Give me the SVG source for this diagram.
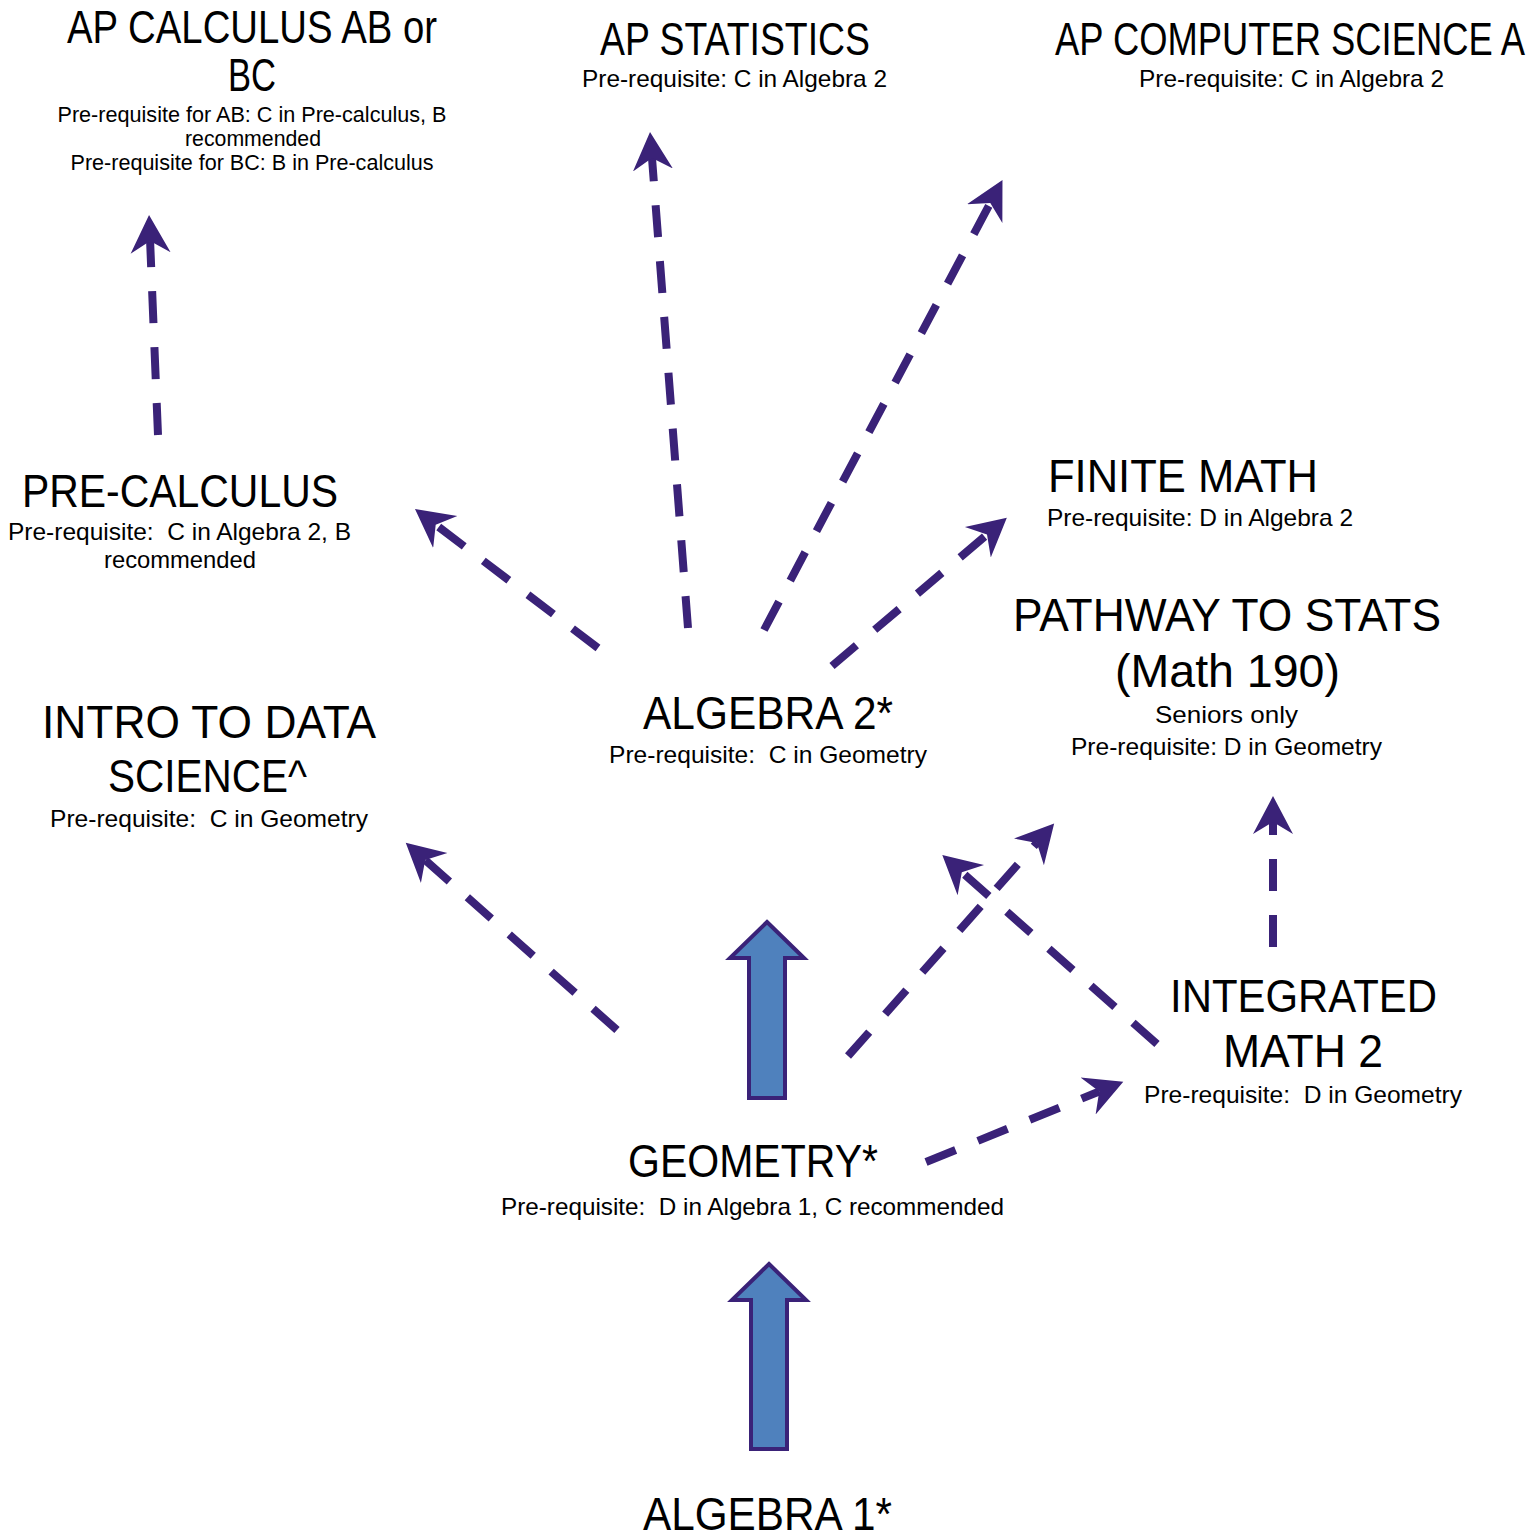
<svg xmlns="http://www.w3.org/2000/svg" width="1535" height="1539" viewBox="0 0 1535 1539">
<defs>
<style>
text{font-family:"Liberation Sans",Arial,sans-serif;fill:#000;text-anchor:middle;white-space:pre}
.t{font-size:46px}
.s{font-size:24px}
.s2{font-size:21.5px}
.d{fill:none;stroke:#3a2278;stroke-width:8;stroke-dasharray:32 24;marker-end:url(#stealth)}
.blk{fill:#4f81bd;stroke:#3a2278;stroke-width:4;stroke-linejoin:miter}
</style>
<marker id="stealth" markerUnits="userSpaceOnUse" markerWidth="40" markerHeight="42" viewBox="0 -21 40 42" refX="12" refY="0" orient="auto">
<path d="M38,0 L0,-20 L12,0 L0,20 Z" fill="#3a2278"/>
</marker>
</defs>
<rect width="1535" height="1539" fill="#fff"/>

<g id="connectors">
<line class="d" x1="158" y1="435" x2="150.1" y2="241"/>
<line class="d" x1="598" y1="648" x2="435.7" y2="524.7"/>
<line class="d" x1="688" y1="628" x2="652" y2="158"/>
<line class="d" x1="764" y1="630" x2="990.3" y2="203"/>
<line class="d" x1="832" y1="666" x2="987" y2="534.6"/>
<line class="d" x1="617" y1="1030" x2="425.2" y2="860"/>
<line class="d" x1="848" y1="1056" x2="1036.9" y2="842.9"/>
<line class="d" x1="1157" y1="1044" x2="961.8" y2="872.2"/>
<line class="d" x1="1273" y1="947" x2="1273" y2="822"/>
<line class="d" x1="926" y1="1162" x2="1099.2" y2="1091.5"/>
<polygon class="blk" points="767,922 804,958 785,958 785,1098 749,1098 749,958 730,958"/>
<polygon class="blk" points="769,1264 806,1300 787,1300 787,1449 751,1449 751,1300 732,1300"/>
</g>

<g id="ap-calculus">
<text class="t" x="252" y="43" textLength="370" lengthAdjust="spacingAndGlyphs">AP CALCULUS AB or</text>
<text class="t" x="252" y="91" textLength="48" lengthAdjust="spacingAndGlyphs">BC</text>
<text class="s2" x="252" y="122" textLength="389" lengthAdjust="spacingAndGlyphs">Pre-requisite for AB: C in Pre-calculus, B</text>
<text class="s2" x="253" y="146" textLength="136" lengthAdjust="spacingAndGlyphs">recommended</text>
<text class="s2" x="252" y="170" textLength="363" lengthAdjust="spacingAndGlyphs">Pre-requisite for BC: B in Pre-calculus</text>
</g>

<g id="ap-statistics">
<text class="t" x="735" y="55" textLength="270" lengthAdjust="spacingAndGlyphs">AP STATISTICS</text>
<text class="s" x="734.5" y="87" textLength="305" lengthAdjust="spacingAndGlyphs">Pre-requisite: C in Algebra 2</text>
</g>

<g id="ap-cs">
<text class="t" x="1290" y="55" textLength="470" lengthAdjust="spacingAndGlyphs">AP COMPUTER SCIENCE A</text>
<text class="s" x="1291.5" y="87" textLength="305" lengthAdjust="spacingAndGlyphs">Pre-requisite: C in Algebra 2</text>
</g>

<g id="pre-calculus">
<text class="t" x="180" y="507" textLength="316" lengthAdjust="spacingAndGlyphs">PRE-CALCULUS</text>
<text class="s" x="179.5" y="540" textLength="343" lengthAdjust="spacingAndGlyphs">Pre-requisite:  C in Algebra 2, B</text>
<text class="s" x="180" y="568" textLength="152" lengthAdjust="spacingAndGlyphs">recommended</text>
</g>

<g id="intro-data-science">
<text class="t" x="209" y="738" textLength="334" lengthAdjust="spacingAndGlyphs">INTRO TO DATA</text>
<text class="t" x="207.5" y="792" textLength="199" lengthAdjust="spacingAndGlyphs">SCIENCE^</text>
<text class="s" x="209" y="827" textLength="318" lengthAdjust="spacingAndGlyphs">Pre-requisite:  C in Geometry</text>
</g>

<g id="algebra-2">
<text class="t" x="768" y="729" textLength="250" lengthAdjust="spacingAndGlyphs">ALGEBRA 2*</text>
<text class="s" x="768" y="763" textLength="318" lengthAdjust="spacingAndGlyphs">Pre-requisite:  C in Geometry</text>
</g>

<g id="finite-math">
<text class="t" x="1183" y="492" textLength="270" lengthAdjust="spacingAndGlyphs">FINITE MATH</text>
<text class="s" x="1200" y="526" textLength="306" lengthAdjust="spacingAndGlyphs">Pre-requisite: D in Algebra 2</text>
</g>

<g id="pathway-to-stats">
<text class="t" x="1227" y="631" textLength="428" lengthAdjust="spacingAndGlyphs">PATHWAY TO STATS</text>
<text class="t" x="1227.5" y="687" textLength="225" lengthAdjust="spacingAndGlyphs">(Math 190)</text>
<text class="s" x="1226.5" y="723" textLength="143" lengthAdjust="spacingAndGlyphs">Seniors only</text>
<text class="s" x="1226.5" y="755" textLength="311" lengthAdjust="spacingAndGlyphs">Pre-requisite: D in Geometry</text>
</g>

<g id="integrated-math-2">
<text class="t" x="1303.5" y="1012" textLength="267" lengthAdjust="spacingAndGlyphs">INTEGRATED</text>
<text class="t" x="1303" y="1067" textLength="160" lengthAdjust="spacingAndGlyphs">MATH 2</text>
<text class="s" x="1303" y="1103" textLength="318" lengthAdjust="spacingAndGlyphs">Pre-requisite:  D in Geometry</text>
</g>

<g id="geometry">
<text class="t" x="753" y="1177" textLength="250" lengthAdjust="spacingAndGlyphs">GEOMETRY*</text>
<text class="s" x="752.5" y="1215" textLength="503" lengthAdjust="spacingAndGlyphs">Pre-requisite:  D in Algebra 1, C recommended</text>
</g>

<g id="algebra-1">
<text class="t" x="767.5" y="1530" textLength="249" lengthAdjust="spacingAndGlyphs">ALGEBRA 1*</text>
</g>
</svg>
